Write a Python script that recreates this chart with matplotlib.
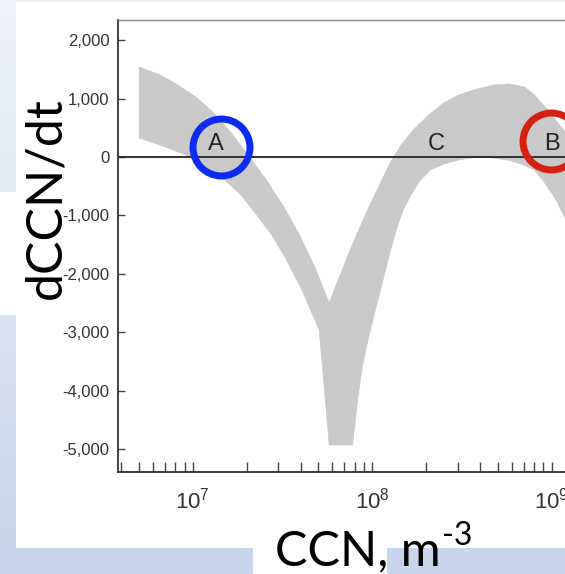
import numpy as np
import matplotlib
matplotlib.use("Agg")
import matplotlib.pyplot as plt
from matplotlib.patches import Rectangle
from matplotlib.ticker import FixedLocator, FuncFormatter, LogLocator

# band outline, traced clockwise starting top-left
# left branch, upper (right-hand) edge down to where the two branches merge
left_top_ccn = [5.03e6, 6.60e6, 8.23e6, 1.04e7, 1.31e7, 1.64e7, 2.07e7, 2.58e7, 3.21e7, 3.96e7, 4.81e7, 5.76e7]
left_top_val = [1538, 1402, 1231, 1026, 752, 410, 0, -400, -850, -1350, -1900, -2496]
# right branch, outer edge (over the arch, out to the cropped right side)
arch_top_ccn = [6.48e7, 7.28e7, 8.29e7, 9.43e7, 1.09e8, 1.25e8, 1.45e8, 1.69e8, 2.05e8, 2.50e8,
                3.03e8, 3.68e8, 4.77e8, 5.80e8, 7.05e8, 8.02e8, 8.78e8, 9.74e8, 1.08e9, 1.26e9]
arch_top_val = [-2090, -1700, -1290, -900, -500, -120, 210, 460, 710, 923,
                1060, 1145, 1231, 1248, 1197, 1060, 923, 769, 581, 342]
# right branch, inner edge (from the right side back down to the stem)
arch_low_ccn = [1.26e9, 1.18e9, 1.08e9, 1.0e9, 8.90e8, 8.02e8, 6.78e8, 5.65e8, 4.65e8, 3.83e8, 3.03e8,
                2.50e8, 2.11e8, 1.85e8, 1.65e8, 1.49e8, 1.36e8, 1.25e8, 1.16e8, 1.06e8, 9.68e7,
                8.84e7, 8.29e7, 7.77e7]
arch_low_val = [-1299, -1026, -786, -615, -393, -222, -120, -51, -17, 0, -51,
                -120, -222, -400, -640, -900, -1250, -1650, -2050, -2520, -3000,
                -3550, -4150, -4923]
# left branch, lower (left-hand) edge back up to the start
left_low_ccn = [5.76e7, 5.40e7, 5.06e7, 4.06e7, 3.26e7, 2.75e7, 2.32e7, 1.86e7, 1.44e7, 9.74e6, 7.05e6, 5.03e6]
left_low_val = [-4923, -3932, -2957, -2274, -1709, -1333, -1026, -650, -342, 0, 171, 325]

# equilibrium points
point_labels = ["A", "C", "B"]
point_ccn = [1.35e7, 2.28e8, 1.0e9]
circle_ccn = [1.44e7, 9.9e8]
circle_val = [170, 265]
circle_colors = ["#0a2cf0", "#d42010"]

y_ticks = [2000, 1000, 0, -1000, -2000, -3000, -4000, -5000]
x_ticks = [1e7, 1e8, 1e9]

W, H = 565, 574
fig = plt.figure(figsize=(W / 100, H / 100), dpi=100)

# slide background: light blue gradient, white picture and text boxes on top
bg = fig.add_axes([0, 0, 1, 1], zorder=-10)
grad = np.linspace(0, 1, 256).reshape(-1, 1)
bg.imshow(grad, aspect="auto", extent=[0, 1, 0, 1], origin="lower",
          cmap=matplotlib.colors.LinearSegmentedColormap.from_list("sl", ["#c6d5ec", "#eef2f9"]))
bg.set_xlim(0, 1)
bg.set_ylim(0, 1)
bg.axis("off")
bg.add_patch(Rectangle((16 / W, 1 - 548 / H), 1, (548 - 2) / H, transform=fig.transFigure,
                       facecolor="white", edgecolor="none"))
bg.add_patch(Rectangle((0, 1 - 315 / H), 16 / W, (315 - 192) / H, transform=fig.transFigure,
                       facecolor="white", edgecolor="none"))
bg.add_patch(Rectangle((253 / W, 0), (387 - 253) / W, 26 / H, transform=fig.transFigure,
                       facecolor="white", edgecolor="none"))

ax = fig.add_axes([118 / W, (H - 472) / H, 1 - 118 / W + 0.01, (472 - 20) / H])
ax.set_facecolor("none")
ax.set_xscale("log")
ax.set_xlim(10 ** (7 - 74 / 177.5), 10 ** (9 + 18 / 177.5) * 1.01)
ax.set_ylim(-5385, 2342)

band_ccn = left_top_ccn + arch_top_ccn + arch_low_ccn + left_low_ccn
band_val = left_top_val + arch_top_val + arch_low_val + left_low_val
ax.fill(band_ccn, band_val, color="#c9c9c9", lw=0.5, zorder=1)

ax.axhline(0, color="#222222", lw=1.3, zorder=2)

for lab, c in zip(point_labels, point_ccn):
    ax.text(c, 40, lab, ha="center", va="bottom", fontsize=17,
            family="Liberation Sans", color="#222222", zorder=3)

for c, v, col in zip(circle_ccn, circle_val, circle_colors):
    ax.plot(c, v, "o", ms=41, mfc="none", mec=col, mew=5, zorder=4)

for side in ["left", "bottom"]:
    ax.spines[side].set_color("#333333")
    ax.spines[side].set_linewidth(1.3)
ax.spines["top"].set_color("#888888")
ax.spines["top"].set_linewidth(1.0)
ax.spines["right"].set_visible(False)

ax.yaxis.set_major_locator(FixedLocator(y_ticks))
ax.yaxis.set_major_formatter(FuncFormatter(lambda v, p: f"{int(v):,}"))
ax.xaxis.set_major_locator(FixedLocator(x_ticks))
ax.xaxis.set_minor_locator(LogLocator(base=10, subs=np.arange(2, 10)))
ax.xaxis.set_minor_formatter(plt.NullFormatter())
ax.tick_params(axis="y", direction="in", length=5, width=1, color="#444444",
               labelsize=12, labelcolor="#333333", pad=6)
ax.tick_params(axis="x", which="both", direction="in", length=7, width=1, color="#444444",
               labelsize=16, labelcolor="#333333", pad=11)
for t in ax.get_xticklabels() + ax.get_yticklabels():
    t.set_family("Liberation Sans")

fig.text(46 / W, 1 - 198 / H, "dCCN/dt", rotation=90, ha="center", va="center",
         fontsize=36, family="Lato", color="black")
xl = fig.text(275 / W, 1 - 565 / H, "CCN, m", ha="left", va="baseline",
              fontsize=35, family="Lato", color="black")
bg.annotate("-3", xy=(1, 0), xycoords=xl, xytext=(1, 20), textcoords="offset points",
            ha="left", va="baseline", fontsize=23, family="Lato", color="black")

fig.savefig("out.png", dpi=100)
